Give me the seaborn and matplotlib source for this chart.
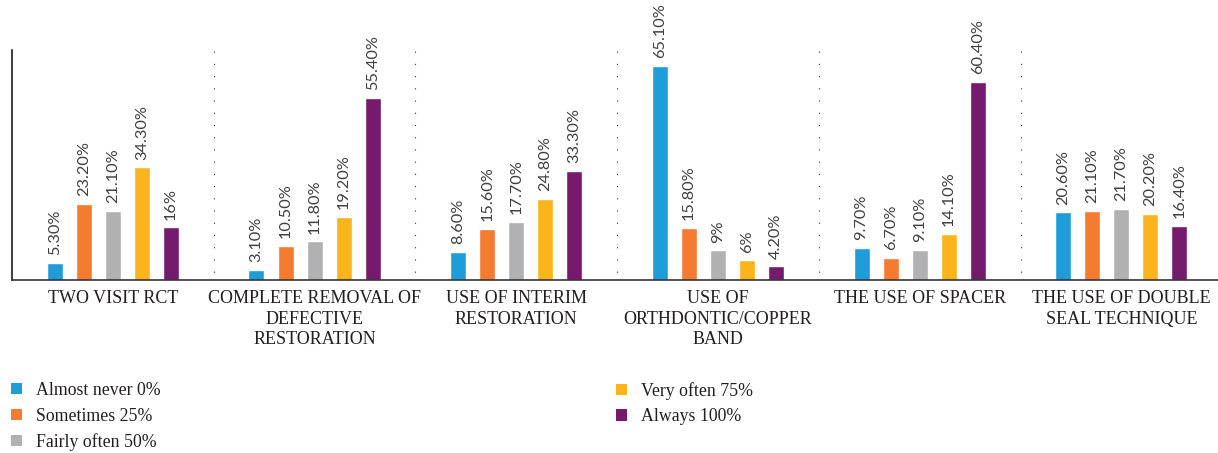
import matplotlib
matplotlib.use("Agg")
import matplotlib.pyplot as plt
from matplotlib.patches import Patch
import seaborn as sns
import pandas as pd

# Practices (x categories) and response frequencies (hue levels)
practices = [
    "TWO VISIT RCT",
    "COMPLETE REMOVAL OF\nDEFECTIVE\nRESTORATION",
    "USE OF INTERIM\nRESTORATION",
    "USE OF\nORTHDONTIC/COPPER\nBAND",
    "THE USE OF SPACER",
    "THE USE OF DOUBLE\nSEAL TECHNIQUE",
]
frequencies = [
    "Almost never 0%",
    "Sometimes 25%",
    "Fairly often 50%",
    "Very often 75%",
    "Always 100%",
]

# Percentage of respondents per frequency, one list per frequency level
almost_never = [5.3, 3.1, 8.6, 65.1, 9.7, 20.6]
sometimes = [23.2, 10.5, 15.6, 15.8, 6.7, 21.1]
fairly_often = [21.1, 11.8, 17.7, 9.0, 9.1, 21.7]
very_often = [34.3, 19.2, 24.8, 6.0, 14.1, 20.2]
always = [16.0, 55.4, 33.3, 4.2, 60.4, 16.4]

colors = ["#1F9DD9", "#F47B30", "#B1B1B4", "#FBB41C", "#761A6E"]

series = [almost_never, sometimes, fairly_often, very_often, always]
rows = []
for freq, vals in zip(frequencies, series):
    for prac, v in zip(practices, vals):
        rows.append({"practice": prac, "frequency": freq, "pct": v})
df = pd.DataFrame(rows)

sns.set_theme(style="white")
plt.rcParams["font.family"] = ["Liberation Serif", "DejaVu Serif"]

W, H = 1218, 453
fig = plt.figure(figsize=(W / 100, H / 100), dpi=100)
ax_left, ax_bottom, ax_top = 12, 280, 50
ax = fig.add_axes([ax_left / W, (H - ax_bottom) / H, (W - ax_left) / W, (ax_bottom - ax_top) / H])

sns.barplot(
    data=df, x="practice", y="pct", hue="frequency",
    order=practices, hue_order=frequencies, palette=colors, saturation=1,
    width=0.72, gap=0.45, dodge=True, legend=False, ax=ax,
)

ax.set_ylim(0, 70)
ax.set_xlim(-0.5, 5.479)


def fmt(v):
    return f"{v:.0f}%" if float(v).is_integer() else f"{v:.2f}%"


for container, vals in zip(ax.containers, series):
    ax.bar_label(
        container, labels=[fmt(v) for v in vals], rotation=90, padding=5.5,
        fontsize=11.8, color="#404040", family="Lato", clip_on=False,
    )

# Dotted separators between practice groups
for i in range(1, len(practices)):
    ax.axvline(i - 0.5, color="#333333", lw=0.8, ls=(4, (1, 10)), zorder=0)

ax.set_xlabel("")
ax.set_ylabel("")
ax.set_yticks([])
ax.tick_params(axis="x", length=0, pad=7.5)
ax.set_xticks(range(len(practices)))
ax.set_xticklabels(practices, fontsize=13, color="#231f20", linespacing=1.25)

for side in ["top", "right"]:
    ax.spines[side].set_visible(False)
ax.spines["left"].set_color("#1a1a1a")
ax.spines["left"].set_linewidth(1.2)
ax.spines["bottom"].set_color("#333333")
ax.spines["bottom"].set_linewidth(1.2)

handles = [Patch(facecolor=c, edgecolor="none") for c in colors]
leg_kw = dict(frameon=False, loc="upper left", fontsize=12.8, handlelength=0.6,
              handleheight=0.6, handletextpad=0.8, labelspacing=0.48,
              borderaxespad=0, borderpad=0, labelcolor="#231f20")
leg1 = fig.legend(handles[:3], frequencies[:3], bbox_to_anchor=(11 / W, 1 - 382 / H), **leg_kw)
leg2 = fig.legend(handles[3:], frequencies[3:], bbox_to_anchor=(616 / W, 1 - 382 / H), **leg_kw)

fig.savefig("out.png", dpi=100)
